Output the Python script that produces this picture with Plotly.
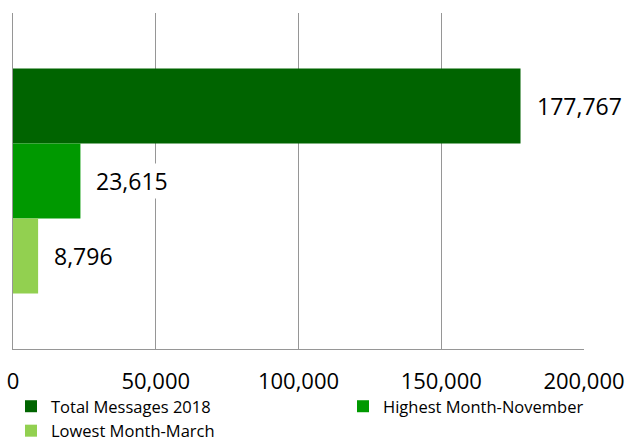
import plotly.graph_objects as go

series_names = ["Total Messages 2018", "Highest Month-November", "Lowest Month-March"]
series_values = [177767, 23615, 8796]
series_colors = ["#006400", "#009900", "#92D050"]
series_legend = ["legend", "legend2", "legend"]
category = ["Messages"]
tick_values = [0, 50000, 100000, 150000, 200000]
tick_labels = ["0", "50,000", "100,000", "150,000", "200,000"]

W, H = 629, 442
m_l, m_r, m_t, m_b = 13, 45, 13, 93
plot_w = W - m_l - m_r
plot_h = H - m_t - m_b
bargap = 0.33
bar_px = plot_h * (1 - bargap) / len(series_values)

FONT = "Open Sans"

fig = go.Figure()
for name, val, col, lg in zip(series_names, series_values, series_colors, series_legend):
    fig.add_trace(go.Bar(
        y=category, x=[val], name=name, orientation="h",
        marker=dict(color=col, line=dict(width=0)),
        legend=lg,
    ))

for i, val in enumerate(series_values):
    fig.add_annotation(
        x=val, y=category[0], xref="x", yref="y",
        text=f"{val:,}", showarrow=False,
        xanchor="left", yanchor="middle",
        xshift=14, yshift=(1 - i) * bar_px,
        bgcolor="white", borderpad=1,
        font=dict(family=FONT, size=23, color="#000000"),
    )

legend_font = dict(family=FONT, size=16.5, color="#000000")
legend_y = -(389 - (m_t + plot_h)) / plot_h
fig.update_layout(
    width=W, height=H,
    margin=dict(l=m_l, r=m_r, t=m_t, b=m_b, autoexpand=False),
    paper_bgcolor="white", plot_bgcolor="white",
    barmode="group", bargap=bargap, bargroupgap=0,
    showlegend=True,
    legend=dict(
        orientation="v", x=(11 - m_l) / plot_w, xanchor="left",
        y=legend_y, yanchor="top",
        font=legend_font, traceorder="normal", tracegroupgap=0,
        itemclick=False, bgcolor="rgba(0,0,0,0)",
    ),
    legend2=dict(
        orientation="v", x=(343 - m_l) / plot_w, xanchor="left",
        y=legend_y, yanchor="top",
        font=legend_font, traceorder="normal", tracegroupgap=0,
        itemclick=False, bgcolor="rgba(0,0,0,0)",
    ),
    font=dict(family=FONT, color="#000000"),
)
fig.update_xaxes(
    range=[0, 200000], tickvals=tick_values, ticktext=tick_labels,
    showgrid=True, gridcolor="#969696", gridwidth=1.3,
    zeroline=False, showline=True, linecolor="#969696", linewidth=1.3,
    ticks="", ticklabelstandoff=12, automargin=False,
    tickfont=dict(family=FONT, size=22, color="#000000"),
)
fig.update_yaxes(
    autorange="reversed", showticklabels=False, showgrid=False,
    zeroline=False, showline=True, linecolor="#969696", linewidth=1.3,
    ticks="", automargin=False,
)

fig.write_html(
    "out.html",
    config={"displayModeBar": False},
    post_script="document.body.style.margin='0';document.body.style.overflow='hidden';",
)
